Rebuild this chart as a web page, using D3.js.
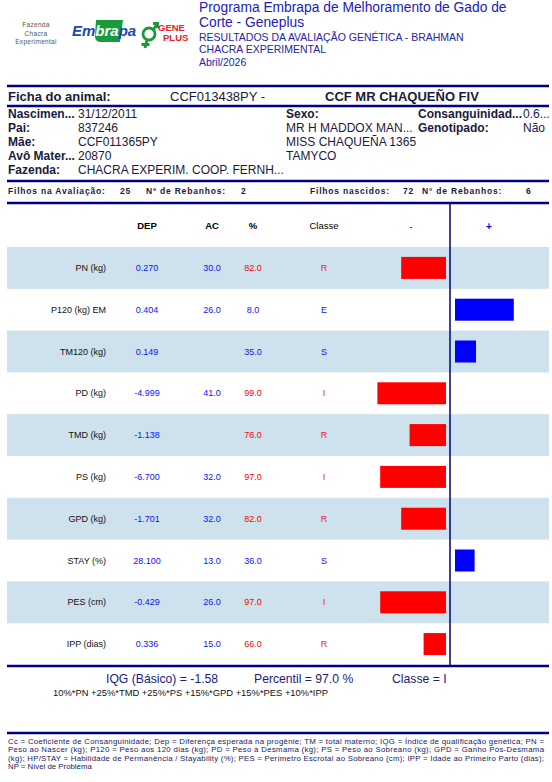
<!DOCTYPE html>
<html lang="pt">
<head>
<meta charset="UTF-8">
<title>Ficha do animal - Geneplus</title>
<script src="https://d3js.org/d3.v7.min.js"></script>
<style>
  body { margin: 0; background: #fff; }
  svg { font-family: "Liberation Sans", Arial, sans-serif; display: block; }
</style>
</head>
<body>
<div id="chart"></div>
<script>
// dados da ficha
const traits = ["PN (kg)", "P120 (kg) EM", "TM120 (kg)", "PD (kg)", "TMD (kg)", "PS (kg)", "GPD (kg)", "STAY (%)", "PES (cm)", "IPP (dias)"];
const dep = ["0.270", "0.404", "0.149", "-4.999", "-1.138", "-6.700", "-1.701", "28.100", "-0.429", "0.336"];
const ac = ["30.0", "26.0", "", "41.0", "", "32.0", "32.0", "13.0", "26.0", "15.0"];
const pct = [82, 8, 35, 99, 76, 97, 82, 36, 97, 66];
const classe = ["R", "E", "S", "I", "R", "I", "R", "S", "I", "R"];

const titleLines = ["Programa Embrapa de Melhoramento de Gado de", "Corte - Geneplus"];
const subLines = ["RESULTADOS DA AVALIAÇÃO GENÉTICA - BRAHMAN", "CHACRA EXPERIMENTAL", "Abril/2026"];
const infoLeft = [["Nascimen...", "31/12/2011"], ["Pai:", "837246"], ["Mãe:", "CCF011365PY"], ["Avô Mater...", "20870"], ["Fazenda:", "CHACRA EXPERIM. COOP. FERNH..."]];
const infoRight = ["Sexo:", "MR H MADDOX MAN...", "MISS CHAQUEÑA 1365", "TAMYCO"];
const footnote = [
  "Cc = Coeficiente de Consanguinidade;  Dep = Diferença esperada na progênie; TM = total materno; IQG = Índice de qualificação genética; PN =",
  "Peso ao Nascer (kg); P120 = Peso aos 120 dias (kg); PD = Peso à Desmama  (kg); PS = Peso ao Sobreano (kg); GPD = Ganho Pós-Desmama",
  "(kg); HP/STAY = Habilidade de Permanência / Stayability (%); PES = Perímetro Escrotal ao Sobreano (cm); IPP = Idade ao Primeiro Parto (dias);",
  "NP = Nível de Problema"
];

const W = 552, H = 782;
const navy = "#000080", ink = "#1a1a40";
const svg = d3.select("#chart").append("svg").attr("width", W).attr("height", H);
svg.append("rect").attr("width", W).attr("height", H).attr("fill", "#fff");

// logos
const logo = svg.append("g");
["Fazenda", "Chacra", "Experimental"].forEach((t, i) => {
  logo.append("text").attr("x", 36).attr("y", 27 + i * 8.5).attr("text-anchor", "middle")
    .attr("font-size", 6.5).attr("letter-spacing", 0.3).attr("fill", "#555").text(t);
});
logo.append("path").attr("d", "M96,20 H123 L120,42 H101 Q95,42 95,36 Z").attr("fill", "#1a9a3a");
const emb = logo.append("text").attr("x", 72).attr("y", 36).attr("font-size", 15).attr("font-weight", "bold")
  .attr("font-style", "italic").attr("fill", "#2046b0");
emb.append("tspan").text("Em");
emb.append("tspan").attr("fill", "#fff").text("bra");
emb.append("tspan").text("pa");
// simbolo geneplus
const sym = logo.append("g").attr("stroke", "#1a9a3a").attr("stroke-width", 2.8).attr("fill", "none");
sym.append("circle").attr("cx", 149).attr("cy", 34).attr("r", 6);
sym.append("path").attr("d", "M153.5,29.5 L157.5,23.5 M153,23.5 H157.5 V28");
sym.append("path").attr("d", "M147,40 L145,48 M141.5,44.5 H149.5");
logo.append("text").attr("x", 158).attr("y", 31).attr("font-size", 9.5).attr("font-weight", "bold").attr("fill", "#e8202a").text("GENE");
logo.append("text").attr("x", 163).attr("y", 41).attr("font-size", 9.5).attr("font-weight", "bold").attr("fill", "#e8202a").text("PLUS");

// titulo
titleLines.forEach((t, i) => {
  svg.append("text").attr("x", 199).attr("y", 12 + i * 15).attr("font-size", 13.8).attr("fill", "#2020c0").text(t);
});
subLines.forEach((t, i) => {
  svg.append("text").attr("x", 199).attr("y", 41 + i * 12.3).attr("font-size", 10.5).attr("fill", "#2424a8").text(t);
});

// linhas horizontais
[86, 106, 181, 203, 666, 733].forEach(y => {
  svg.append("line").attr("x1", 7).attr("x2", 549).attr("y1", y).attr("y2", y)
    .attr("stroke", navy).attr("stroke-width", 2.6);
});

// ficha
svg.append("text").attr("x", 8).attr("y", 101).attr("font-size", 13).attr("font-weight", "bold").attr("fill", ink).text("Ficha do animal:");
svg.append("text").attr("x", 170).attr("y", 101).attr("font-size", 13).attr("fill", ink).text("CCF013438PY -");
svg.append("text").attr("x", 325).attr("y", 101).attr("font-size", 13).attr("font-weight", "bold").attr("fill", ink).text("CCF MR CHAQUEÑO FIV");

const infoY = [118, 132, 146, 160, 174];
infoLeft.forEach((d, i) => {
  svg.append("text").attr("x", 8).attr("y", infoY[i]).attr("font-size", 12).attr("font-weight", "bold").attr("fill", ink).text(d[0]);
  svg.append("text").attr("x", 78).attr("y", infoY[i]).attr("font-size", 12).attr("fill", ink).text(d[1]);
});
infoRight.forEach((t, i) => {
  svg.append("text").attr("x", 286).attr("y", infoY[i]).attr("font-size", 12)
    .attr("font-weight", i === 0 ? "bold" : "normal").attr("fill", ink).text(t);
});
svg.append("text").attr("x", 418).attr("y", infoY[0]).attr("font-size", 12).attr("font-weight", "bold").attr("fill", ink).text("Consanguinidad...");
svg.append("text").attr("x", 523).attr("y", infoY[0]).attr("font-size", 12).attr("fill", ink).text("0.6...");
svg.append("text").attr("x", 418).attr("y", infoY[1]).attr("font-size", 12).attr("font-weight", "bold").attr("fill", ink).text("Genotipado:");
svg.append("text").attr("x", 523).attr("y", infoY[1]).attr("font-size", 12).attr("fill", ink).text("Não");

// filhos
[[8, "Filhos na Avaliação:"], [120, "25"], [146, "Nº de Rebanhos:"], [241, "2"],
 [310, "Filhos nascidos:"], [403, "72"], [422, "N° de Rebanhos:"], [526, "6"]].forEach(d => {
  svg.append("text").attr("x", d[0]).attr("y", 194).attr("font-size", 8.5).attr("font-weight", "bold")
    .attr("fill", ink).attr("letter-spacing", 0.8).text(d[1]);
});

// tabela
const y = d3.scaleBand().domain(traits).range([247, 665]);
const bar = d3.scaleLinear().domain([0, 50]).range([0, 70]);
const zeroL = 446, zeroR = 455, axisX = 450;

svg.selectAll("rect.band").data(traits.filter((d, i) => i % 2 === 0)).enter()
  .append("rect").attr("class", "band")
  .attr("x", 7).attr("width", 542)
  .attr("y", d => y(d)).attr("height", y.bandwidth())
  .attr("fill", "#cde2ec");

const head = svg.append("g").attr("font-size", 9.5);
head.append("text").attr("x", 147).attr("y", 229).attr("text-anchor", "middle").attr("font-weight", "bold").text("DEP");
head.append("text").attr("x", 212).attr("y", 229).attr("text-anchor", "middle").attr("font-weight", "bold").text("AC");
head.append("text").attr("x", 253).attr("y", 229).attr("text-anchor", "middle").attr("font-weight", "bold").text("%");
head.append("text").attr("x", 324).attr("y", 229).attr("text-anchor", "middle").text("Classe");
head.append("text").attr("x", 411).attr("y", 230).attr("text-anchor", "middle").attr("font-weight", "bold").attr("fill", "#ff0000").text("-");
head.append("text").attr("x", 489).attr("y", 230).attr("text-anchor", "middle").attr("font-weight", "bold").attr("font-size", 10).attr("fill", "#0000ff").text("+");

const bad = c => c === "R" || c === "I";
const rows = svg.selectAll("g.row").data(traits).enter().append("g").attr("class", "row")
  .attr("transform", d => `translate(0,${y(d) + y.bandwidth() / 2})`)
  .attr("font-size", 9);
rows.append("text").attr("x", 106).attr("y", 3).attr("text-anchor", "end").attr("fill", "#111").text(d => d);
rows.append("text").attr("x", 147).attr("y", 3).attr("text-anchor", "middle").attr("fill", "#1010ff").text((d, i) => dep[i]);
rows.append("text").attr("x", 212).attr("y", 3).attr("text-anchor", "middle").attr("fill", "#1010ff").text((d, i) => ac[i]);
rows.append("text").attr("x", 253).attr("y", 3).attr("text-anchor", "middle")
  .attr("fill", (d, i) => bad(classe[i]) ? "#ff0000" : "#1010ff").text((d, i) => pct[i].toFixed(1));
rows.append("text").attr("x", 324).attr("y", 3).attr("text-anchor", "middle")
  .attr("fill", (d, i) => bad(classe[i]) ? "#f0204a" : "#1010ff").text((d, i) => classe[i]);
rows.append("rect")
  .attr("x", (d, i) => pct[i] > 50 ? zeroL - bar(pct[i] - 50) : zeroR)
  .attr("width", (d, i) => bar(Math.abs(pct[i] - 50)))
  .attr("y", -11).attr("height", 22)
  .attr("fill", (d, i) => pct[i] > 50 ? "#ff0000" : "#0000ff");

svg.append("line").attr("x1", axisX).attr("x2", axisX).attr("y1", 203).attr("y2", 666)
  .attr("stroke", navy).attr("stroke-width", 1.5);

// IQG
const iqg = svg.append("g").attr("font-size", 12.2).attr("fill", "#1a1a80");
iqg.append("text").attr("x", 106).attr("y", 683).text("IQG (Básico) = -1.58");
iqg.append("text").attr("x", 254).attr("y", 683).text("Percentil = 97.0 %");
iqg.append("text").attr("x", 392).attr("y", 683).text("Classe = I");
svg.append("text").attr("x", 53).attr("y", 696).attr("font-size", 9.4).attr("fill", "#111")
  .text("10%*PN +25%*TMD +25%*PS +15%*GPD +15%*PES +10%*IPP");

// legenda
footnote.forEach((t, i) => {
  const tx = svg.append("text").attr("x", 8).attr("y", 744 + i * 8.3).attr("font-size", 7.8)
    .attr("fill", "#202060").text(t);
  if (i < footnote.length - 1) tx.attr("textLength", 536).attr("lengthAdjust", "spacing");
});
</script>
</body>
</html>
